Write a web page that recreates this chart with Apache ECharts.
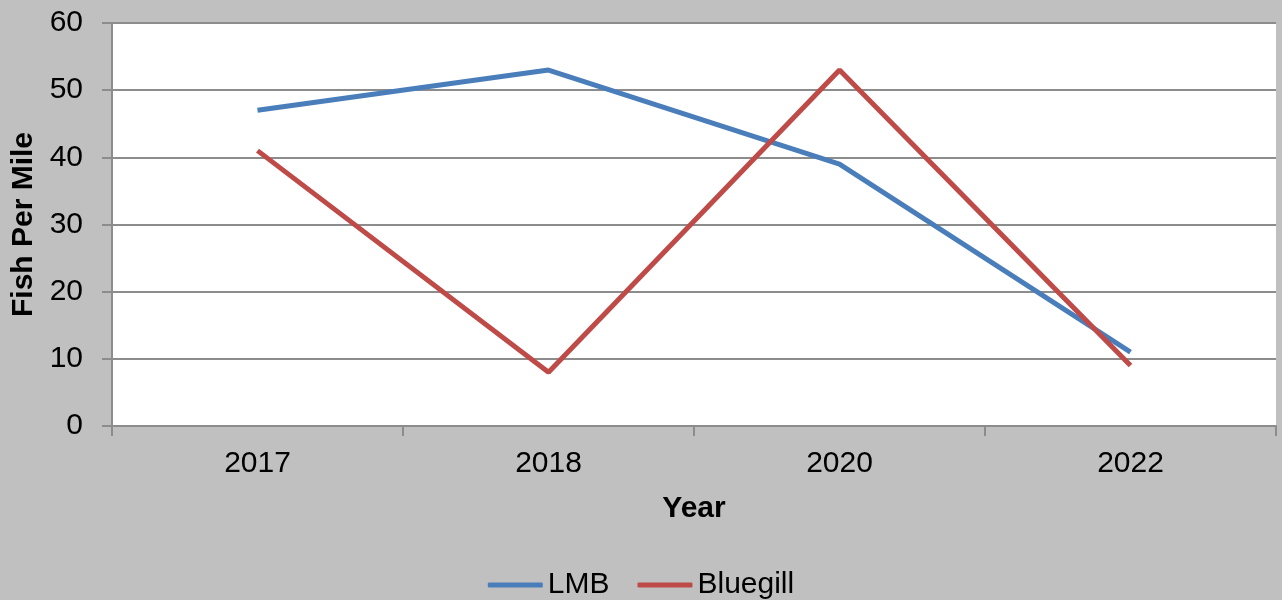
<!DOCTYPE html>
<html>
<head>
<meta charset="utf-8">
<script src="https://cdn.jsdelivr.net/npm/echarts@6/dist/echarts.min.js"></script>
<style>
  html, body { margin: 0; padding: 0; background: #c0c0c0; }
  #chart { width: 1282px; height: 600px; }
</style>
</head>
<body>
<div id="chart"></div>
<script>
// data
const years = ['2017', '2018', '2020', '2022']
const lmb = [47, 53, 39, 11]
const bluegill = [41, 8, 53, 9]

const chart = echarts.init(document.getElementById('chart'))
const font = '"Liberation Sans", Arial, sans-serif'
const axisGray = '#8c8c8c'

chart.setOption({
  backgroundColor: '#c0c0c0',
  animation: false,
  textStyle: { fontFamily: font },
  legend: {
    bottom: 0,
    left: 'center',
    padding: 0,
    icon: 'roundRect',
    itemWidth: 55,
    itemHeight: 5,
    itemGap: 28,
    textStyle: { fontSize: 30, color: '#000', fontFamily: font },
    data: ['LMB', 'Bluegill']
  },
  grid: {
    left: 112,
    right: 6,
    top: 23,
    bottom: 174,
    outerBoundsMode: 'none',
    show: true,
    backgroundColor: '#fff',
    borderWidth: 0
  },
  xAxis: {
    type: 'category',
    data: years,
    boundaryGap: true,
    name: 'Year',
    nameLocation: 'middle',
    nameGap: 68,
    nameTextStyle: { fontSize: 30, fontWeight: 'bold', color: '#000', fontFamily: font },
    axisLine: { lineStyle: { color: axisGray, width: 2 } },
    axisTick: { show: true, length: 10, lineStyle: { color: axisGray, width: 2 } },
    axisLabel: { fontSize: 30, color: '#000', margin: 23, fontFamily: font },
    splitLine: { show: false }
  },
  yAxis: {
    type: 'value',
    min: 0,
    max: 60,
    interval: 10,
    name: 'Fish Per Mile',
    nameLocation: 'middle',
    nameGap: 71,
    nameTextStyle: { fontSize: 30, fontWeight: 'bold', color: '#000', fontFamily: font },
    axisLine: { show: true, lineStyle: { color: axisGray, width: 2 } },
    axisTick: { show: true, length: 10, lineStyle: { color: axisGray, width: 2 } },
    axisLabel: { fontSize: 30, color: '#000', margin: 29, fontFamily: font },
    splitLine: { show: true, lineStyle: { color: axisGray, width: 2 } }
  },
  series: [
    {
      name: 'LMB',
      type: 'line',
      data: lmb,
      symbol: 'none',
      color: '#4a7ebb',
      lineStyle: { width: 5, color: '#4a7ebb' }
    },
    {
      name: 'Bluegill',
      type: 'line',
      data: bluegill,
      symbol: 'none',
      color: '#be4b48',
      lineStyle: { width: 5, color: '#be4b48' }
    }
  ]
})
</script>
</body>
</html>
